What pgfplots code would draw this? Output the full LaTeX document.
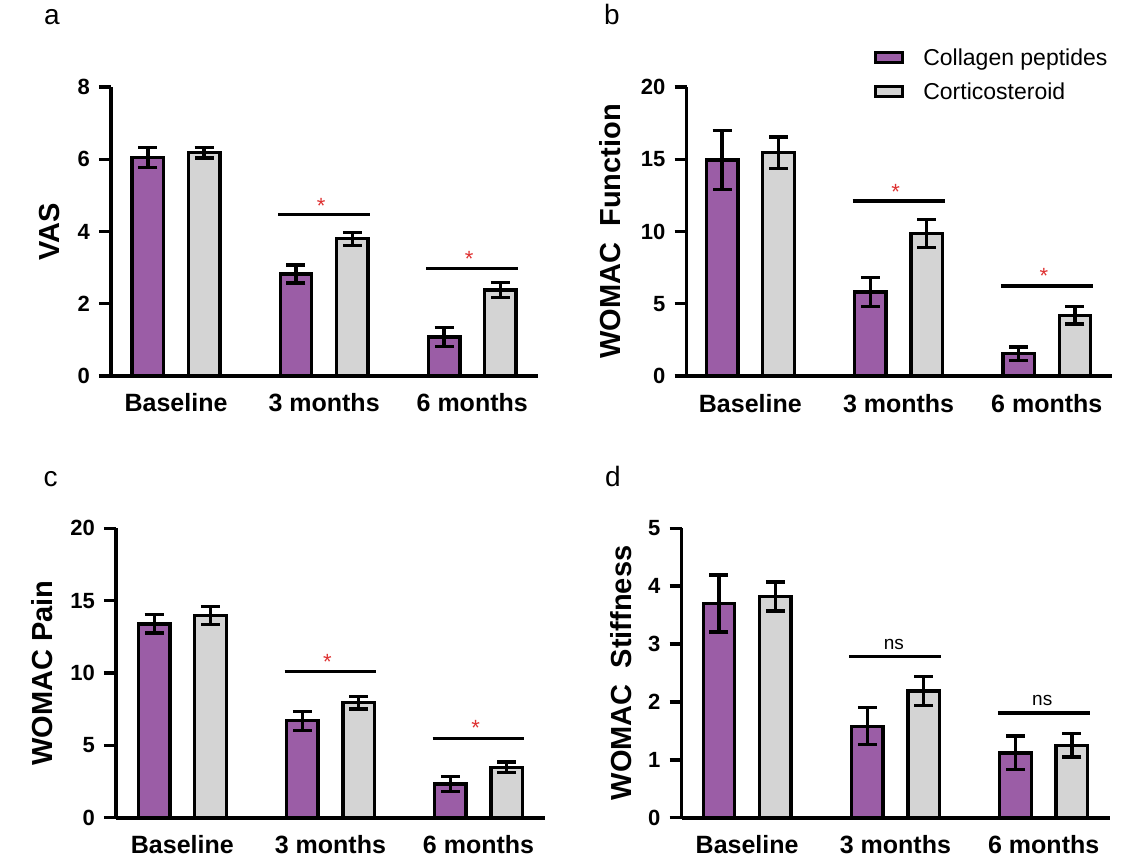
\documentclass[border=0pt]{standalone}
\usepackage{pgfplots}
\pgfplotsset{compat=1.18}
\usepackage{fontspec}
\setmainfont{Liberation Sans}
\definecolor{cpurple}{RGB}{155,93,166}
\definecolor{cgrey}{RGB}{212,212,212}
\definecolor{sigred}{RGB}{222,50,50}
\tikzset{sigline/.style={line width=3.2pt, black},
  star/.style={text=sigred, font=\fontsize{22}{22}\selectfont, anchor=north, inner sep=0pt}}
\pgfplotsset{
  panel/.style={
    scale only axis, anchor=south west, clip=false,
    axis x line*=bottom, axis y line*=left,
    axis line style={-, line width=3.6pt, black},
    ybar, bar shift=0pt, bar width=31.5pt,
    ymin=0,
    xtick={0,1,2}, xticklabels={Baseline,3 months,6 months},
    xtick style={draw=none},
    ytick style={line width=3.4pt, black},
    tick align=outside, major tick length=12pt,
    ytick pos=left, xtick pos=bottom,
    /pgf/number format/assume math mode=true,
    xticklabel style={font=\bfseries\fontsize{25}{25}\selectfont, anchor=base, inner sep=0pt, yshift=-24pt},
    yticklabel style={font=\bfseries\fontsize{22}{22}\selectfont, anchor=east, inner sep=0pt, xshift=-9pt},
    ylabel style={font=\bfseries\fontsize{29}{29}\selectfont, anchor=center},
  },
  pbar/.style={fill=cpurple, draw=black, line width=3.4pt,
    error bars/.cd, y dir=both, y explicit,
    error bar style={line width=3.4pt, black},
    error mark options={rotate=90, line width=3.4pt, mark size=9.5pt, black}},
  gbar/.style={fill=cgrey, draw=black, line width=3.4pt,
    error bars/.cd, y dir=both, y explicit,
    error bar style={line width=3.4pt, black},
    error mark options={rotate=90, line width=3.4pt, mark size=9.5pt, black}},
}
\begin{document}
\begin{tikzpicture}
\path[use as bounding box] (0pt,0pt) rectangle (1138pt,863pt);

% ---------- panel a ----------
\begin{axis}[panel, at={(111pt,487pt)}, width=427pt, height=289pt,
  xmin=-0.439, xmax=2.444, ymax=8, ytick={0,2,4,6,8},
  ylabel={VAS}, ylabel style={at={(axis description cs:-0.143,0.5)}}]
\addplot[pbar] coordinates {(-0.19,6.05) +- (0,0.28) (0.81,2.82) +- (0,0.25) (1.81,1.08) +- (0,0.27)};
\addplot[gbar] coordinates {(0.19,6.18) +- (0,0.15) (1.19,3.80) +- (0,0.18) (2.19,2.38) +- (0,0.20)};
\draw[sigline] (axis cs:0.69,4.46) -- (axis cs:1.31,4.46);
\draw[sigline] (axis cs:1.69,2.98) -- (axis cs:2.31,2.98);
\node[star] at (axis cs:0.98,4.92) {*};
\node[star] at (axis cs:1.98,3.455) {*};
\end{axis}

% ---------- panel b ----------
\begin{axis}[panel, at={(686.6pt,487pt)}, width=425.7pt, height=289pt,
  xmin=-0.43, xmax=2.442, ymax=20, ytick={0,5,10,15,20},
  ylabel={WOMAC\ \ Function}, ylabel style={at={(axis description cs:-0.1785,0.5)}},
  legend style={draw=none, fill=none, at={(axis description cs:0.4405,1.134)}, anchor=north west,
    inner sep=0pt, nodes={inner sep=0pt}, font=\fontsize{23}{23}\selectfont, row sep=16pt,
    /tikz/every odd column/.append style={column sep=19pt}},
  legend cell align=left,
  legend image code/.code={\draw[#1,/tikz/.cd,line width=3pt] (0pt,-5pt) rectangle (27pt,5pt);}]
\addplot[pbar] coordinates {(-0.19,14.95) +- (0,2.05) (0.81,5.80) +- (0,1.00) (1.81,1.55) +- (0,0.47)};
\addplot[gbar] coordinates {(0.19,15.45) +- (0,1.08) (1.19,9.88) +- (0,0.97) (2.19,4.20) +- (0,0.60)};
\legend{Collagen peptides, Corticosteroid}
\draw[sigline] (axis cs:0.69,12.11) -- (axis cs:1.31,12.11);
\draw[sigline] (axis cs:1.69,6.23) -- (axis cs:2.31,6.23);
\node[star] at (axis cs:0.98,13.30) {*};
\node[star] at (axis cs:1.98,7.49) {*};
\end{axis}

% ---------- panel c ----------
\begin{axis}[panel, at={(116pt,45.3pt)}, width=428.6pt, height=289.4pt,
  xmin=-0.448, xmax=2.446, ymax=20, ytick={0,5,10,15,20},
  ylabel={WOMAC Pain}, ylabel style={at={(axis description cs:-0.173,0.5)}}]
\addplot[pbar] coordinates {(-0.19,13.40) +- (0,0.63) (0.81,6.70) +- (0,0.66) (1.81,2.33) +- (0,0.53)};
\addplot[gbar] coordinates {(0.19,13.97) +- (0,0.62) (1.19,7.95) +- (0,0.43) (2.19,3.48) +- (0,0.36)};
\draw[sigline] (axis cs:0.69,10.09) -- (axis cs:1.31,10.09);
\draw[sigline] (axis cs:1.69,5.49) -- (axis cs:2.31,5.49);
\node[star] at (axis cs:0.98,11.28) {*};
\node[star] at (axis cs:1.98,6.72) {*};
\end{axis}

% ---------- panel d ----------
\begin{axis}[panel, at={(681.6pt,45.3pt)}, width=428.1pt, height=289.4pt,
  xmin=-0.442, xmax=2.445, ymax=5, ytick={0,1,2,3,4,5},
  ylabel={WOMAC\ \ Stiffness}, ylabel style={at={(axis description cs:-0.142,0.5)}}]
\addplot[pbar] coordinates {(-0.19,3.70) +- (0,0.49) (0.81,1.58) +- (0,0.32) (1.81,1.12) +- (0,0.29)};
\addplot[gbar] coordinates {(0.19,3.82) +- (0,0.25) (1.19,2.19) +- (0,0.25) (2.19,1.25) +- (0,0.20)};
\draw[sigline] (axis cs:0.69,2.78) -- (axis cs:1.31,2.78);
\draw[sigline] (axis cs:1.69,1.81) -- (axis cs:2.31,1.81);
\node[font=\fontsize{19}{19}\selectfont, anchor=base, inner sep=0pt] at (axis cs:0.99,2.91) {ns};
\node[font=\fontsize{19}{19}\selectfont, anchor=base, inner sep=0pt] at (axis cs:1.99,1.947) {ns};
\end{axis}

% panel letters
\node[anchor=base west, inner sep=0pt, font=\fontsize{28}{28}\selectfont] at (44pt,838pt) {a};
\node[anchor=base west, inner sep=0pt, font=\fontsize{28}{28}\selectfont] at (604pt,838pt) {b};
\node[anchor=base west, inner sep=0pt, font=\fontsize{28}{28}\selectfont] at (43.5pt,376pt) {c};
\node[anchor=base west, inner sep=0pt, font=\fontsize{28}{28}\selectfont] at (605pt,376pt) {d};
\end{tikzpicture}
\end{document}
